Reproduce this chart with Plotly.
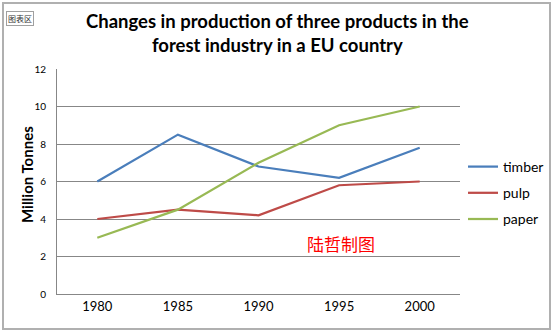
import plotly.graph_objects as go

years = ["1980", "1985", "1990", "1995", "2000"]
timber = [6, 8.5, 6.8, 6.2, 7.8]
pulp = [4, 4.5, 4.2, 5.8, 6]
paper = [3, 4.5, 7, 9, 10]
series_names = ["timber", "pulp", "paper"]
colors = ["#4A7EBB", "#BE4B48", "#98B954"]
y_ticks = [0, 2, 4, 6, 8, 10, 12]

fig = go.Figure()
for name, vals, c in zip(series_names, [timber, pulp, paper], colors):
    fig.add_trace(go.Scatter(x=years, y=vals, mode="lines", name=name, legendgroup=name,
                             line=dict(color=c, width=2.25)))

W, H = 554, 333
L, R, T, B = 57, 94, 69, 39

fig.update_layout(
    width=W, height=H,
    margin=dict(l=L, r=R, t=T, b=B, autoexpand=False),
    paper_bgcolor="white", plot_bgcolor="white",
    font=dict(family="Lato, Liberation Sans, sans-serif", color="black"),
    showlegend=True,
    legend=dict(xref="container", yref="container", x=463 / W, y=1 - 193 / H,
                xanchor="left", yanchor="middle",
                font=dict(size=14, family="Lato, sans-serif"),
                tracegroupgap=5, itemwidth=30, bgcolor="rgba(0,0,0,0)"),
    xaxis=dict(type="category", range=[-0.5, 4.5], showgrid=False,
               showline=True, linecolor="#878787", linewidth=1,
               ticks="outside", ticklen=0, tickfont=dict(size=13, family="Lato, sans-serif"),
               fixedrange=True),
    yaxis=dict(range=[0, 12], tickvals=y_ticks, showgrid=True, gridcolor="#878787",
               gridwidth=1, showline=True, linecolor="#878787", linewidth=1,
               zeroline=False, ticks="", ticklabelstandoff=8,
               tickfont=dict(size=10, family="Lato, sans-serif"),
               fixedrange=True),
    shapes=[dict(type="rect", xref="paper", yref="paper",
                 x0=(3 - L) / (W - L - R), x1=(550 - L) / (W - L - R),
                 y0=(H - B - 329) / (H - T - B), y1=(H - B - 3) / (H - T - B),
                 line=dict(color="#B0B0B0", width=2), layer="below")],
    annotations=[
        dict(text="<b>Changes in production of three products in the<br>forest industry in a EU country</b>",
             xref="paper", yref="paper", x=(277 - L) / (W - L - R), y=(H - B - 33) / (H - T - B),
             xanchor="center", yanchor="middle", showarrow=False,
             font=dict(size=18.5, family="Lato, sans-serif", color="black"), align="center"),
        dict(text="<b>Million Tonnes</b>", xref="paper", yref="paper",
             x=(27 - L) / (W - L - R), y=(H - B - 175) / (H - T - B),
             xanchor="center", yanchor="middle", showarrow=False, textangle=-90,
             font=dict(size=15, family="Lato, sans-serif", color="black")),
        dict(text="陆哲制图", xref="paper", yref="paper",
             x=(341 - L) / (W - L - R), y=(H - B - 243) / (H - T - B),
             xanchor="center", yanchor="middle", showarrow=False,
             font=dict(size=17, family="Noto Sans CJK SC", color="#FF0000")),
        dict(text="图表区", xref="paper", yref="paper",
             x=(6 - L) / (W - L - R), y=(H - B - 19) / (H - T - B),
             xanchor="left", yanchor="middle", showarrow=False,
             font=dict(size=8, family="Noto Sans CJK SC", color="#333333"),
             bgcolor="white", bordercolor="#A0A0A0", borderwidth=1, borderpad=1),
    ],
)

fig.write_html("out.html")
